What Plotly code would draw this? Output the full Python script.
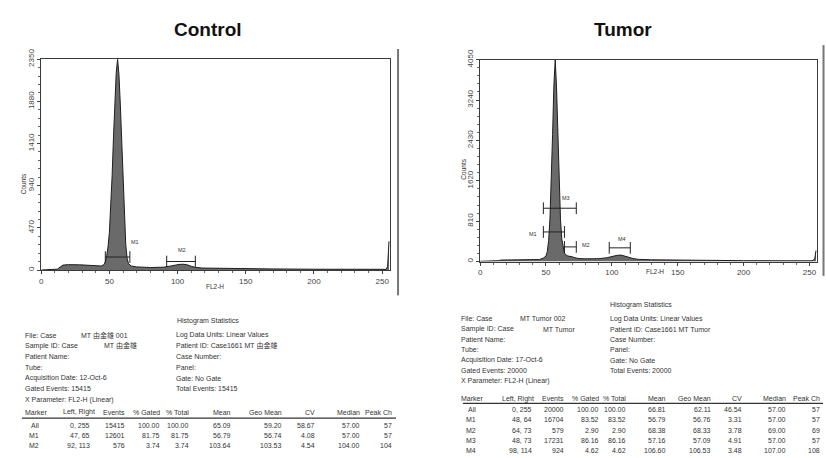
import plotly.graph_objects as go

# ---------------- data ----------------
# Control histogram (channel, counts)
ctrl_ch = [0, 3, 8, 12, 14, 16, 20, 24, 28, 32, 36, 40, 44, 46, 47, 48, 49, 50, 51, 52, 53, 54, 55, 56,
           57, 58, 59, 60, 61, 62, 63, 64, 66, 70, 80, 90, 95, 98, 101, 104, 107, 110, 113, 118, 130,
           150, 170, 200, 230, 250, 253, 254, 255]
ctrl_counts = [0, 2, 5, 10, 35, 55, 60, 62, 58, 55, 50, 45, 45, 60, 90, 160, 260, 420, 700, 1050, 1480,
               1880, 2200, 2350, 2180, 1850, 1420, 950, 560, 280, 130, 70, 45, 35, 28, 32, 45, 55, 62, 65,
               58, 42, 30, 22, 18, 16, 12, 9, 7, 6, 8, 40, 320]

# Tumor histogram
tum_ch = [0, 5, 10, 14, 16, 25, 35, 45, 48, 50, 51, 52, 53, 54, 55, 56, 57, 58, 59, 60, 61, 62, 63, 64,
          66, 68, 70, 72, 75, 80, 90, 96, 100, 104, 107, 110, 113, 116, 120, 130, 150, 153, 160, 180,
          200, 230, 252, 254, 255]
tum_counts = [5, 5, 8, 18, 30, 32, 32, 40, 70, 110, 200, 420, 850, 1550, 2550, 3550, 4050, 3500, 2500,
              1550, 850, 450, 260, 170, 115, 110, 95, 75, 60, 55, 58, 75, 105, 125, 130, 115, 85, 60,
              45, 35, 28, 38, 26, 22, 18, 15, 15, 50, 220]

x_ticks = [0, 50, 100, 150, 200, 250]
ctrl_y_ticks = [0, 470, 940, 1410, 1880, 2350]
tum_y_ticks = [0, 810, 1620, 2430, 3240, 4050]

# markers: name, left, right
ctrl_markers = [("M1", 47, 65), ("M2", 92, 113)]
tum_markers = [("M1", 48, 64), ("M2", 64, 73), ("M3", 48, 73), ("M4", 98, 114)]

titles = ["Control", "Tumor"]

ctrl_info_left = ["File: Case", "Sample ID: Case", "Patient Name:", "Tube:",
                  "Acquisition Date: 12-Oct-6", "Gated Events: 15415", "X Parameter: FL2-H (Linear)"]
ctrl_info_vals = ["MT 由金雄 001", "MT 由金雄"]
ctrl_info_right = ["Log Data Units: Linear Values", "Patient ID: Case1661 MT 由金雄", "Case Number:",
                   "Panel:", "Gate: No Gate", "Total Events: 15415"]

tum_info_left = ["File: Case", "Sample ID: Case", "Patient Name:", "Tube:",
                 "Acquisition Date: 17-Oct-6", "Gated Events: 20000", "X Parameter: FL2-H (Linear)"]
tum_info_vals = ["MT Tumor 002", "MT Tumor"]
tum_info_right = ["Log Data Units: Linear Values", "Patient ID: Case1661 MT Tumor", "Case Number:",
                  "Panel:", "Gate: No Gate", "Total Events: 20000"]

table_header = ["Marker", "Left, Right", "Events", "% Gated", "% Total", "Mean", "Geo Mean", "CV",
                "Median", "Peak Ch"]
ctrl_rows = [
    ["All", "0, 255", "15415", "100.00", "100.00", "65.09", "59.20", "58.67", "57.00", "57"],
    ["M1", "47, 65", "12601", "81.75", "81.75", "56.79", "56.74", "4.08", "57.00", "57"],
    ["M2", "92, 113", "576", "3.74", "3.74", "103.64", "103.53", "4.54", "104.00", "104"],
]
tum_rows = [
    ["All", "0, 255", "20000", "100.00", "100.00", "66.81", "62.11", "46.54", "57.00", "57"],
    ["M1", "48, 64", "16704", "83.52", "83.52", "56.79", "56.76", "3.31", "57.00", "57"],
    ["M2", "64, 73", "579", "2.90", "2.90", "68.38", "68.33", "3.78", "69.00", "69"],
    ["M3", "48, 73", "17231", "86.16", "86.16", "57.16", "57.09", "4.91", "57.00", "57"],
    ["M4", "98, 114", "924", "4.62", "4.62", "106.60", "106.53", "3.48", "107.00", "108"],
]

# ---------------- layout helpers ----------------
W, H = 826, 458
FONT = "Liberation Sans, Arial, Noto Sans CJK SC, sans-serif"
TITLE_FONT = "Liberation Sans, Arial, sans-serif"


def px(x):
    return x / W


def py(y):
    return 1 - y / H


fig = go.Figure()

# histograms
fig.add_trace(go.Scatter(x=ctrl_ch, y=ctrl_counts, mode="lines", fill="tozeroy",
                         line=dict(color="#1e1e1e", width=1), fillcolor="#6a6a6a",
                         xaxis="x", yaxis="y", hoverinfo="skip", showlegend=False))
fig.add_trace(go.Scatter(x=tum_ch, y=tum_counts, mode="lines", fill="tozeroy",
                         line=dict(color="#1e1e1e", width=1), fillcolor="#6a6a6a",
                         xaxis="x2", yaxis="y2", hoverinfo="skip", showlegend=False))

# marker bar levels (positions) and label placements
ctrl_levels = {"M1": 145, "M2": 95}
ctrl_cap = 65
ctrl_label_pos = {"M1": (69, 317), "M2": (103, 220)}
tum_levels = {"M1": 594, "M2": 294, "M3": 1070, "M4": 275}
tum_cap = 118
tum_label_pos = {"M1": (40, 560), "M2": (80, 330), "M3": (65, 1270), "M4": (107.5, 445)}


def add_markers(markers, levels, cap, label_pos, xa, ya):
    for name, lft, rgt in markers:
        h = levels[name]
        fig.add_trace(go.Scatter(
            x=[lft, lft, None, lft, rgt, None, rgt, rgt],
            y=[h - cap, h + cap, None, h, h, None, h - cap, h + cap],
            mode="lines", line=dict(color="#222", width=1),
            xaxis=xa, yaxis=ya, hoverinfo="skip", showlegend=False))
        lx, ly = label_pos[name]
        fig.add_annotation(x=lx, y=ly, xref=xa, yref=ya, text=name, showarrow=False,
                           font=dict(family=FONT, size=5.5, color="#333"))


add_markers(ctrl_markers, ctrl_levels, ctrl_cap, ctrl_label_pos, "x", "y")
add_markers(tum_markers, tum_levels, tum_cap, tum_label_pos, "x2", "y2")

axis_common = dict(showline=True, mirror=True, linecolor="#3a3a3a", linewidth=1.2,
                   showgrid=False, zeroline=False, ticks="outside", ticklen=3,
                   tickcolor="#444", tickfont=dict(family=FONT, size=8, color="#444"))

fig.update_layout(
    width=W, height=H, margin=dict(l=0, r=0, t=0, b=0),
    paper_bgcolor="white", plot_bgcolor="white", showlegend=False,
    xaxis=dict(domain=[px(39.3), px(389.3)], range=[0, 256], anchor="y", tickvals=x_ticks,
               minor=dict(dtick=10, ticks="outside", ticklen=2, tickcolor="#666"), **axis_common),
    yaxis=dict(domain=[py(266), py(49.5)], range=[0, 2350], anchor="x", tickvals=ctrl_y_ticks,
               tickangle=-90, minor=dict(dtick=94, ticks="outside", ticklen=2, tickcolor="#666"),
               **axis_common),
    xaxis2=dict(domain=[px(479.3), px(817.3)], range=[0, 256], anchor="y2", tickvals=x_ticks,
                minor=dict(dtick=10, ticks="outside", ticklen=2, tickcolor="#666"), **axis_common),
    yaxis2=dict(domain=[py(257.3), py(50)], range=[0, 4050], anchor="x2", tickvals=tum_y_ticks,
                tickangle=-90, minor=dict(dtick=162, ticks="outside", ticklen=2, tickcolor="#666"),
                **axis_common),
)

# separators
fig.add_shape(type="line", xref="paper", yref="paper", x0=px(397), x1=px(397), y0=py(39), y1=py(292),
              line=dict(color="#777", width=2))
fig.add_shape(type="line", xref="paper", yref="paper", x0=px(823.5), x1=px(823.5), y0=py(35), y1=py(272),
              line=dict(color="#777", width=2))


def txt(x, y, s, size=7, anchor="left", color="#333", bold=False, angle=0, family=FONT):
    if bold:
        s = "<b>" + s + "</b>"
    fig.add_annotation(x=px(x), y=py(y), xref="paper", yref="paper", text=s, showarrow=False,
                       xanchor=anchor, yanchor="middle", textangle=angle,
                       font=dict(family=family, size=size, color=color))


# titles
txt(206, 18.5, titles[0], size=19, anchor="center", color="#111", bold=True, family=TITLE_FONT)
txt(623, 18.5, titles[1], size=19, anchor="center", color="#111", bold=True, family=TITLE_FONT)

# axis titles
txt(21, 177, "Counts", size=6.5, anchor="center", angle=-90)
txt(214, 283, "FL2-H", size=6.5, anchor="center")
txt(463, 162, "Counts", size=6.5, anchor="center", angle=-90)
txt(655, 268, "FL2-H", size=6.5, anchor="center")


def stats_block(x0, xr, xv, y_title, x_title, y0, dy, info_left, info_vals, info_right,
                y_head, y_line, line_x, y_rows, col_edges, header_lr_edge, rows):
    txt(x_title, y_title, "Histogram Statistics", anchor="center")
    for i, s in enumerate(info_left):
        txt(x0, y0 + i * dy, s)
    for i, s in enumerate(info_vals):
        txt(xv[i], y0 + i * dy, s)
    for i, s in enumerate(info_right):
        txt(xr, y0 + i * dy, s)
    # header
    txt(x0, y_head, table_header[0])
    for j in range(1, len(table_header)):
        edge = header_lr_edge if j == 1 else col_edges[j]
        txt(edge, y_head, table_header[j], anchor="right")
    fig.add_shape(type="line", xref="paper", yref="paper", x0=px(line_x[0]), x1=px(line_x[1]),
                  y0=py(y_line), y1=py(y_line), line=dict(color="#333", width=1.3))
    for i, row in enumerate(rows):
        for j, cell in enumerate(row):
            txt(col_edges[j], y_rows[i], cell, anchor="right")


stats_block(x0=21, xr=172, xv=[77, 100], y_title=318, x_title=207, y0=333, dy=11,
            info_left=ctrl_info_left, info_vals=ctrl_info_vals, info_right=ctrl_info_right,
            y_head=412, y_line=418, line_x=(20, 395), y_rows=[425.5, 436, 446.5],
            col_edges=[39, 90, 125, 160, 189, 232, 283, 316, 361, 393], header_lr_edge=95,
            rows=ctrl_rows)

stats_block(x0=458, xr=607, xv=[517, 540], y_title=302, x_title=641, y0=316, dy=10.6,
            info_left=tum_info_left, info_vals=tum_info_vals, info_right=tum_info_right,
            y_head=398, y_line=403, line_x=(462, 823), y_rows=[409.5, 420, 430.5, 441, 451.5],
            col_edges=[477, 533, 565, 600, 628, 668, 713, 744, 788, 822], header_lr_edge=535,
            rows=tum_rows)

fig.write_html("out.html", config={"displayModeBar": False},
               post_script="document.body.style.margin='0';document.body.style.overflow='hidden';")
